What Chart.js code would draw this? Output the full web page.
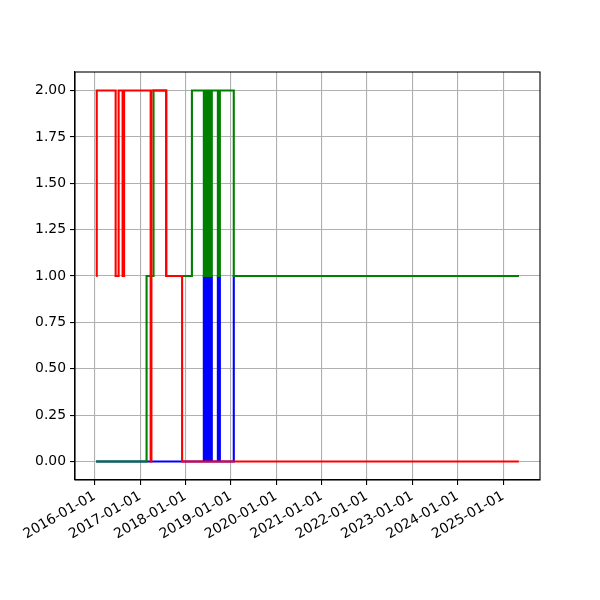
<!DOCTYPE html>
<html>
<head>
<meta charset="utf-8">
<script src="https://cdn.jsdelivr.net/npm/chart.js@4"></script>
<style>
  html, body { margin: 0; padding: 0; background: #fff; }
  #wrap { width: 600px; height: 600px; }
</style>
</head>
<body>
<div id="wrap"><canvas id="stepChart" width="600" height="600"></canvas></div>
<script>
// each point: from this date on, the series takes this value
const redDates = ["2016-01-13", "2016-01-18", "2016-06-18", "2016-07-12", "2016-08-13", "2016-08-25",
  "2017-03-27", "2017-04-02", "2017-07-30", "2017-12-05", "2025-05-08"];
const redValues = [1, 2, 1, 2, 1, 2, 0, 2, 1, 0, 0];

const greenDates = ["2016-01-13", "2017-02-22", "2017-04-19", "2017-07-30", "2018-02-22",
  "2018-05-29", "2018-06-02", "2018-06-06", "2018-06-11", "2018-06-15", "2018-06-19", "2018-06-23", "2018-06-28",
  "2018-07-02", "2018-07-06", "2018-07-10", "2018-07-15", "2018-07-19", "2018-07-23", "2018-07-27", "2018-08-01",
  "2018-09-19", "2018-10-05", "2019-01-25", "2025-05-08"];
const greenValues = [0, 1, 2, 1, 2,
  1, 2, 1, 2, 1, 2, 1, 2,
  1, 2, 1, 2, 1, 2, 1, 2,
  1, 2, 1, 1];

const blueDates = ["2016-01-13",
  "2018-05-29", "2018-06-02", "2018-06-06", "2018-06-11", "2018-06-15", "2018-06-19", "2018-06-23", "2018-06-28",
  "2018-07-02", "2018-07-06", "2018-07-10", "2018-07-15", "2018-07-19", "2018-07-23", "2018-07-27", "2018-08-01",
  "2018-09-19", "2018-10-05", "2019-01-25", "2025-05-08"];
const blueValues = [0,
  1, 0, 1, 0, 1, 0, 1, 0,
  1, 0, 1, 0, 1, 0, 1, 0,
  1, 0, 1, 1];

const yearTicks = ["2016-01-01", "2017-01-01", "2018-01-01", "2019-01-01", "2020-01-01",
  "2021-01-01", "2022-01-01", "2023-01-01", "2024-01-01", "2025-01-01"];
const yTicks = [0, 0.25, 0.5, 0.75, 1, 1.25, 1.5, 1.75, 2];

function toPoints(dates, values) {
  return dates.map((d, i) => ({ x: Date.parse(d), y: values[i] }));
}

const allX = [...redDates, ...greenDates, ...blueDates].map((d) => Date.parse(d));
const dataMin = Math.min(...allX);
const dataMax = Math.max(...allX);
const span = dataMax - dataMin;

const font = { family: "DejaVu Sans", size: 13.9 };

const boxPlugin = {
  id: "box",
  afterDraw(chart) {
    const { ctx, chartArea } = chart;
    ctx.save();
    ctx.strokeStyle = "#000";
    ctx.lineWidth = 1.1;
    ctx.strokeRect(chartArea.left, chartArea.top,
      chartArea.right - chartArea.left, chartArea.bottom - chartArea.top);
    ctx.restore();
  },
};

function lineSet(points, color) {
  return {
    data: points,
    borderColor: color,
    backgroundColor: color,
    borderWidth: 2.1,
    stepped: "before",
    pointRadius: 0,
    fill: false,
  };
}

new Chart(document.getElementById("stepChart"), {
  type: "line",
  data: {
    datasets: [
      lineSet(toPoints(redDates, redValues), "#ff0000"),
      lineSet(toPoints(greenDates, greenValues), "#008000"),
      lineSet(toPoints(blueDates, blueValues), "#0000ff"),
    ],
  },
  options: {
    responsive: false,
    animation: false,
    layout: { padding: { top: 72, right: 60, left: 0, bottom: 0 } },
    plugins: {
      legend: { display: false },
      tooltip: { enabled: false },
    },
    scales: {
      x: {
        type: "linear",
        min: dataMin - 0.05 * span,
        max: dataMax + 0.05 * span,
        afterBuildTicks: (scale) => {
          scale.ticks = yearTicks.map((d) => ({ value: Date.parse(d) }));
        },
        afterFit: (scale) => { scale.height = 120; },
        ticks: {
          autoSkip: false,
          minRotation: 30,
          maxRotation: 30,
          padding: 3,
          color: "#000",
          font: font,
          callback: (v) => new Date(v).toISOString().slice(0, 10),
        },
        grid: { color: "#b0b0b0", lineWidth: 1.1, tickColor: "#000", tickLength: 5 },
        border: { color: "#000", width: 1.1 },
      },
      y: {
        min: -0.1,
        max: 2.1,
        afterBuildTicks: (scale) => {
          scale.ticks = yTicks.map((v) => ({ value: v }));
        },
        afterFit: (scale) => { scale.width = 75; },
        ticks: {
          padding: 4,
          color: "#000",
          font: font,
          callback: (v) => v.toFixed(2),
        },
        grid: { color: "#b0b0b0", lineWidth: 1.1, tickColor: "#000", tickLength: 5 },
        border: { color: "#000", width: 1.1 },
      },
    },
  },
  plugins: [boxPlugin],
});
</script>
</body>
</html>
